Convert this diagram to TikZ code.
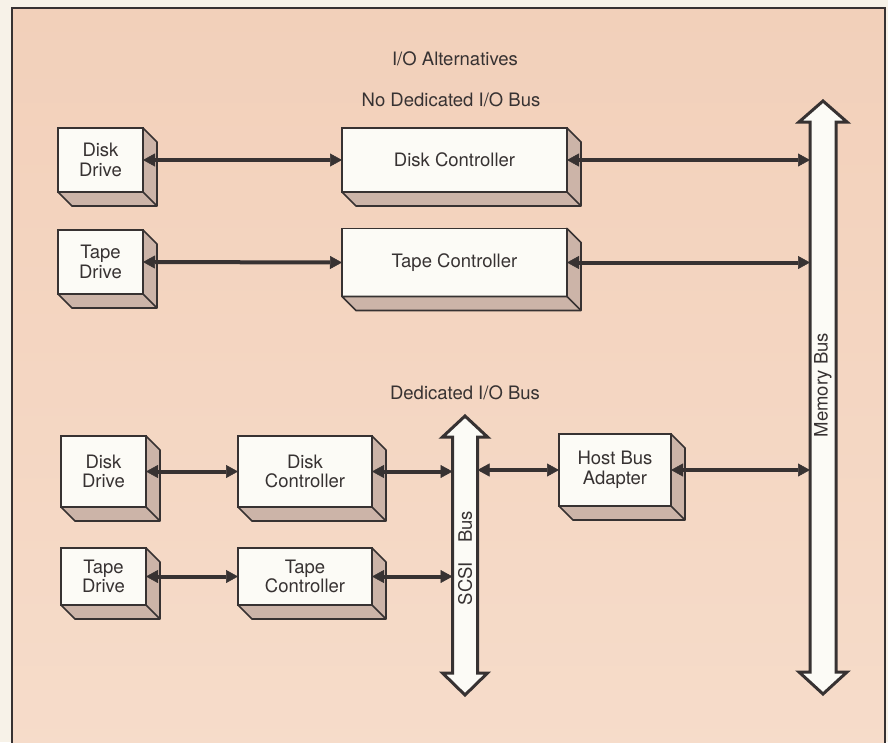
\documentclass[tikz,border=0pt]{standalone}
\usepackage{fontspec}
\setmainfont{TeX Gyre Heros}
\usetikzlibrary{arrows.meta,calc}
\definecolor{outer}{RGB}{247,242,232}
\definecolor{peachTop}{RGB}{242,208,186}
\definecolor{peachBot}{RGB}{246,220,202}
\definecolor{ink}{RGB}{55,50,50}
\definecolor{face}{RGB}{252,251,246}
\definecolor{depth}{RGB}{204,180,168}
\tikzset{
  blk/.style={draw=ink, line width=1.7pt, fill=face, inner sep=0pt, outer sep=0pt, align=center,
    font=\fontsize{18.5}{19.5}\selectfont, text=ink},
  lnk/.style={draw=ink, line width=4pt,
    {Triangle[length=12pt,width=13pt,line width=0.5pt]}-{Triangle[length=12pt,width=13pt,line width=0.5pt]}},
  busbody/.style={draw=ink, line width=3pt, fill=face, line join=miter},
  busslot/.style={inner sep=0pt, outer sep=0pt, draw=none},
  lbl/.style={font=\fontsize{18.5}{20}\selectfont, text=ink, inner sep=0pt},
  depthface/.style={draw=ink, line width=1.7pt, fill=depth, line join=round},
}
\newcommand\deepen[1]{%
  \draw[depthface] (#1.north east) -- ++(14,14) -- ($(#1.south east)+(14,14)$)
     -- ($(#1.south west)+(14,14)$) -- (#1.south west) -- (#1.south east) -- cycle;
  \draw[depthface] (#1.south east) -- ++(14,14);
}
\begin{document}
\begin{tikzpicture}[x=1pt,y=-1pt]
\clip (0,0) rectangle (888,742);
\fill[outer] (0,0) rectangle (888,742);
\shade[top color=peachTop, bottom color=peachBot] (12,8) rectangle (885,760);
\draw[ink, line width=2pt] (12,8) rectangle (885,760);

% titles
\node[lbl] (t1) at (455,59) {I/O Alternatives};
\node[lbl] (t2) at (451,100) {No Dedicated I/O Bus};
\node[lbl] (t3) at (465,393) {Dedicated I/O Bus};

% memory bus
\draw[busbody] (810,122) -- (799,122) -- (823,101) -- (847,122) -- (836,122) -- (836,672)
  -- (847,672) -- (823,694) -- (799,672) -- (810,672) -- cycle;
\node[busslot, minimum width=26pt, minimum height=550pt] (mbus) at (823,397) {};
\node[lbl, rotate=90] (mbl) at (823,385) {Memory Bus};

% SCSI bus
\draw[busbody] (452.5,437) -- (442.5,437) -- (465,416) -- (487.5,437) -- (477.5,437) -- (477.5,673)
  -- (487.5,673) -- (465,695) -- (442.5,673) -- (452.5,673) -- cycle;
\node[busslot, minimum width=25pt, minimum height=236pt] (sbus) at (465,555) {};
\node[lbl, rotate=90] (sbl) at (465,558) {SCSI\hspace{19pt}Bus};

% top section
\node[blk, minimum width=85pt, minimum height=64pt] (dd1) at (100.5,160) {Disk\\Drive};
\node[blk, minimum width=85pt, minimum height=64pt] (td1) at (100.5,262) {Tape\\Drive};
\node[blk, minimum width=225pt, minimum height=64pt] (dc1) at (454.5,160) {Disk Controller};
\node[blk, minimum width=225pt, minimum height=68pt] (tc1) at (454.5,262.5) {Tape Controller};

% bottom section
\node[blk, minimum width=85pt, minimum height=71pt] (dd2) at (103.5,471.5) {Disk\\Drive};
\node[blk, minimum width=85pt, minimum height=57pt] (td2) at (103.5,576.5) {Tape\\Drive};
\node[blk, minimum width=134pt, minimum height=71pt] (dc2) at (305,471.5) {Disk\\Controller};
\node[blk, minimum width=134pt, minimum height=57pt] (tc2) at (305,576.5) {Tape\\Controller};
\node[blk, minimum width=112pt, minimum height=72pt] (hba) at (615,470) {Host Bus\\Adapter};

\deepen{dd1}\deepen{td1}\deepen{dc1}\deepen{tc1}
\deepen{dd2}\deepen{td2}\deepen{dc2}\deepen{tc2}\deepen{hba}

% connectors
\draw[lnk] (dd1.east) -- (dc1.west);
\draw[lnk] (td1.east) -- (tc1.west);
\draw[lnk] (dc1.east) -- (dc1.east -| mbus.west);
\draw[lnk] (tc1.east) -- (tc1.east -| mbus.west);
\draw[lnk] (dd2.east) -- (dc2.west);
\draw[lnk] (td2.east) -- (tc2.west);
\draw[lnk] (dc2.east) -- (dc2.east -| sbus.west);
\draw[lnk] (tc2.east) -- (tc2.east -| sbus.west);
\draw[lnk] (hba.west -| sbus.east) -- (hba.west);
\draw[lnk] (hba.east) -- (hba.east -| mbus.west);
\end{tikzpicture}
\end{document}
